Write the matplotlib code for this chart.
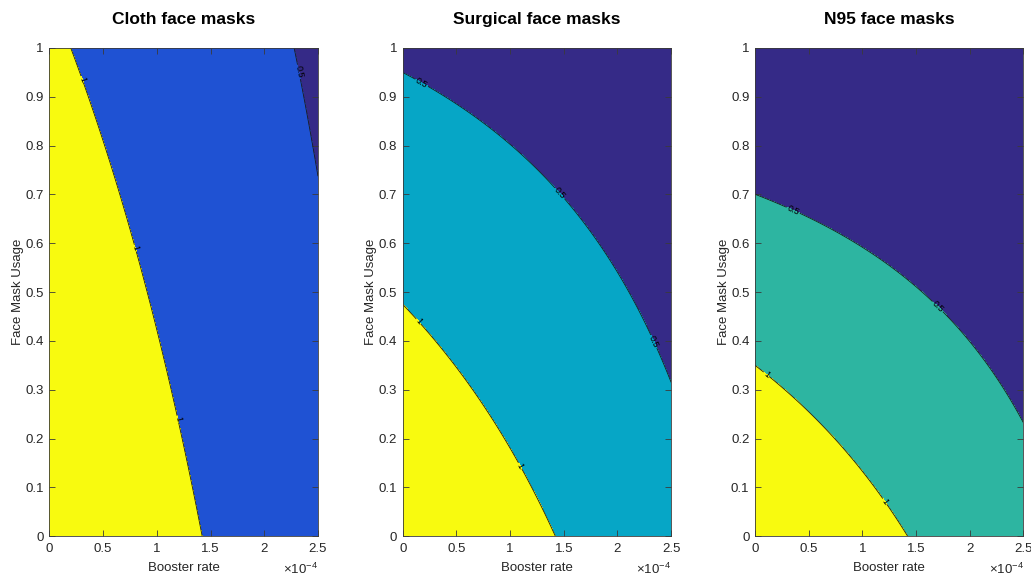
import numpy as np
import matplotlib
matplotlib.use("Agg")
import matplotlib.pyplot as plt
from matplotlib.ticker import FixedLocator, FuncFormatter

plt.rcParams["font.family"] = ["Liberation Sans", "DejaVu Sans"]
plt.rcParams["mathtext.fontset"] = "custom"
plt.rcParams["mathtext.rm"] = "Liberation Sans"
plt.rcParams["mathtext.it"] = "Liberation Sans:italic"

# Panels, one per mask type
titles = ["Cloth face masks", "Surgical face masks", "N95 face masks"]
mask_efficacy = [0.30, 0.702, 0.952]

# Reproduction number without masks, as a function of the booster rate:
# R(b) = r0 + c1*b + c2*b^2, then scaled by (1 - efficacy * usage)
r0 = 1.5
booster_c1 = -0.3627e4
booster_c2 = 0.0078e8

booster_max = 2.5e-4
contour_levels = [0.5, 1.0]
level_labels = {0.5: "0.5", 1.0: "1"}

# Fill colours below 0.5, between 0.5 and 1, above 1
fill_colors = [
    ["#352A87", "#1F52D3", "#F8FA0F"],
    ["#352A87", "#06A6C6", "#F8FA0F"],
    ["#352A87", "#2DB5A1", "#F8FA0F"],
]

# Where the contour labels sit (booster rate in 1e-4 units, mask usage)
label_spots = [
    [(2.3, 0.95), (0.3, 0.935), (0.8, 0.59), (1.2, 0.24)],
    [(0.18, 0.93), (1.45, 0.70), (2.35, 0.40), (0.15, 0.44), (1.1, 0.145)],
    [(0.35, 0.665), (1.7, 0.47), (0.1, 0.33), (1.2, 0.07)],
]

x_ticks = [0, 0.5, 1, 1.5, 2, 2.5]
y_ticks = [0, 0.1, 0.2, 0.3, 0.4, 0.5, 0.6, 0.7, 0.8, 0.9, 1]

booster = np.linspace(0, booster_max, 400)
usage = np.linspace(0, 1, 400)
B, M = np.meshgrid(booster, usage)
base = r0 + booster_c1 * B + booster_c2 * B ** 2

fig = plt.figure(figsize=(10.31, 5.76), dpi=100)
lefts = [0.048, 0.3906, 0.7323]
axis_color = "#3a3a3a"
text_color = "#262626"

for i, title in enumerate(titles):
    ax = fig.add_axes([lefts[i], 0.0689, 0.2604, 0.848])
    R = base * (1 - mask_efficacy[i] * M)
    ax.contourf(B, M, R, levels=[-1.0, 0.5, 1.0, 3.0], colors=fill_colors[i])
    cs = ax.contour(B, M, R, levels=contour_levels, colors="#1a1a1a",
                    linewidths=0.6)
    spots = [(x * 1e-4, y) for x, y in label_spots[i]]
    ax.clabel(cs, fmt=level_labels, fontsize=6.5, inline=True,
              inline_spacing=1, manual=spots, colors="black")

    ax.set_xlim(0, booster_max)
    ax.set_ylim(0, 1)
    ax.xaxis.set_major_locator(FixedLocator([t * 1e-4 for t in x_ticks]))
    ax.xaxis.set_major_formatter(FuncFormatter(lambda v, p: f"{v / 1e-4:g}"))
    ax.yaxis.set_major_locator(FixedLocator(y_ticks))
    ax.yaxis.set_major_formatter(FuncFormatter(lambda v, p: f"{v:g}"))
    ax.tick_params(direction="in", top=True, right=True, length=4,
                   width=0.6, color=axis_color, labelsize=9.5,
                   labelcolor=text_color)
    ax.tick_params(axis="x", pad=5)
    ax.tick_params(axis="y", pad=4)
    for s in ax.spines.values():
        s.set_color(axis_color)
        s.set_linewidth(0.6)

    ax.set_title(title, fontsize=12.5, fontweight="bold", pad=17)
    ax.set_xlabel("Booster rate", fontsize=9.5, color=text_color, labelpad=5)
    ax.set_ylabel("Face Mask Usage", fontsize=9.5, color=text_color,
                  labelpad=1)
    ax.text(1.0, -0.078, r"$\times\mathregular{10^{-4}}$", transform=ax.transAxes,
            ha="right", va="baseline", fontsize=9.5, color=text_color)

fig.savefig("out.png", dpi=100)
